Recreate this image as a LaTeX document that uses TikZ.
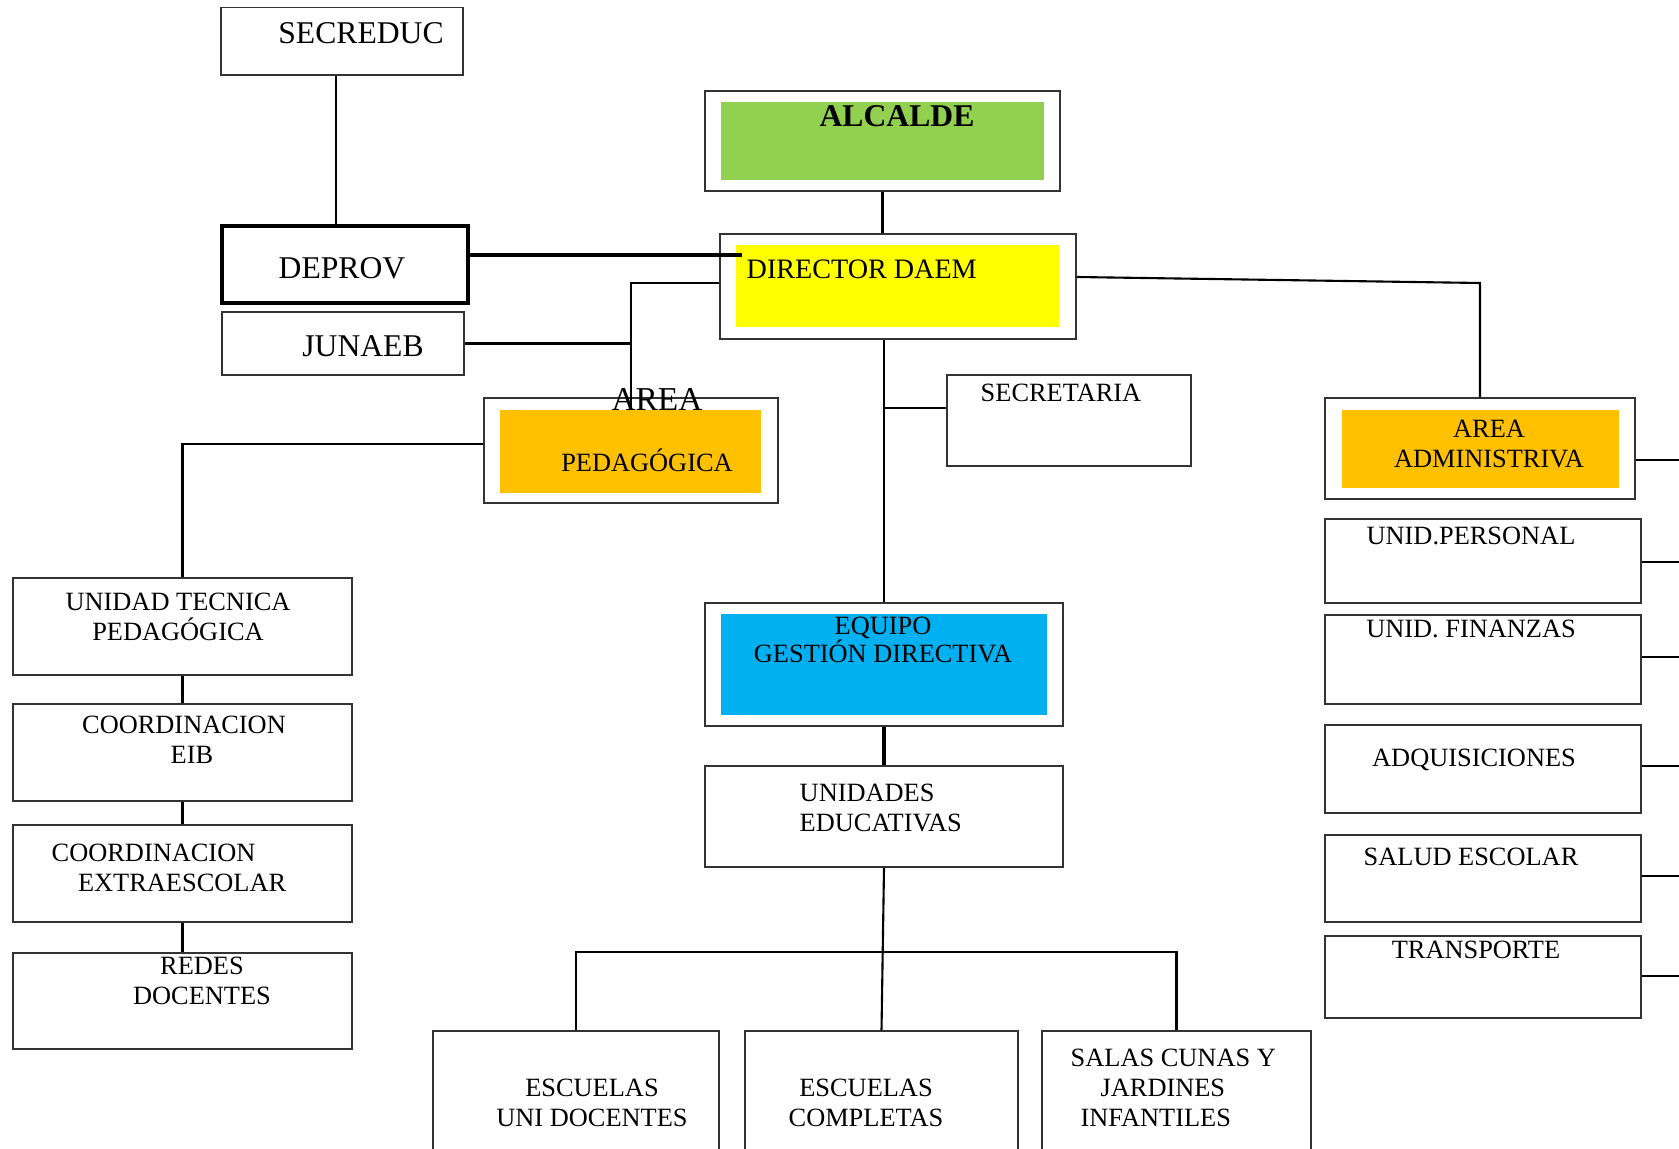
\documentclass[tikz,border=0pt]{standalone}
\usepackage{fontspec}
\setmainfont{Liberation Serif}
\usetikzlibrary{fit}

\definecolor{verde}{HTML}{92D050}
\definecolor{amarillo}{HTML}{FFFF00}
\definecolor{naranjo}{HTML}{FFC000}
\definecolor{celeste}{HTML}{00B0F0}

\begin{document}
\begin{tikzpicture}[x=0.01cm,y=-0.01cm,
  caja/.style={draw=black!80,line width=0.45pt,inner sep=0pt,fit={#1}},
  fondo/.style 2 args={fill=#1,inner sep=0pt,fit={#2}},
  linea/.style={draw=black,line width=0.6pt},
  gruesa/.style={draw=black,line width=1pt},
  grande/.style={font=\fontsize{9}{10.5}\selectfont,inner sep=0pt},
  chica/.style={font=\fontsize{7.5}{8.6}\selectfont,inner sep=0pt,align=center}]
\useasboundingbox (0,0) rectangle (1679,1149);
\clip (0,0) rectangle (1679,1149);

% cajas de arriba
\node[caja={(221,7.5) (463,75)}] (secreduc) {};
\node[caja={(222,226) (468,303)},line width=1pt,draw=black] (deprov) {};
\node[caja={(222,312) (464,375)}] (junaeb) {};
\node[caja={(705,91) (1060,191)}] (alcalde) {};
\node[fondo={verde}{(721,102) (1044,180)}] (alcIn) {};
\node[caja={(720,234) (1076,339)}] (director) {};
\node[fondo={amarillo}{(736,245) (1059,327)}] (dirIn) {};
\node[caja={(947,375) (1191,466)}] (secretaria) {};

% areas
\node[caja={(484,398) (778,503)}] (pedO) {};
\node[fondo={naranjo}{(500,410) (761,493)}] (pedIn) {};
\node[caja={(1325,398) (1635,499)}] (admO) {};
\node[fondo={naranjo}{(1342,410) (1619,488)}] (admIn) {};

% columna pedagogica
\node[caja={(13,578) (352,675)}] (utp) {};
\node[caja={(13,704) (352,801)}] (eib) {};
\node[caja={(13,825) (352,922)}] (extra) {};
\node[caja={(13,953) (352,1049)}] (redes) {};

% columna administrativa
\node[caja={(1325,519) (1641,603)}] (personal) {};
\node[caja={(1325,615) (1641,704)}] (finanzas) {};
\node[caja={(1325,725) (1641,813)}] (adquis) {};
\node[caja={(1325,835) (1641,922)}] (salud) {};
\node[caja={(1325,936) (1641,1018)}] (transp) {};

% centro
\node[caja={(705,603) (1063,726)}] (equipo) {};
\node[fondo={celeste}{(721,614) (1047,715)}] (eqIn) {};
\node[caja={(705,766) (1063,867)}] (unidades) {};
\node[caja={(433,1031) (719,1170)}] (escUni) {};
\node[caja={(745,1031) (1018,1170)}] (escComp) {};
\node[caja={(1042,1031) (1311,1170)}] (salas) {};

% conectores
\draw[linea] (secreduc.south) ++(-6,0) coordinate (sd) -- (sd |- deprov.north);
\draw[gruesa] (deprov.east |- 0,255) -- ([xshift=2pt]dirIn.west |- 0,255);
\coordinate (jn) at (631,283);
\draw[linea] (junaeb.east) -- (junaeb.east -| jn);
\draw[linea] (director.west |- jn) -- (jn) -- (jn |- pedIn.north);
\draw[linea] (alcalde.south) -- (alcalde.south |- director.north);
\draw[linea] (equipo.north |- director.south) -- (equipo.north);
\draw[linea] (secretaria.west |- 0,408) -- (equipo.north |- 0,408);
\draw[linea] (director.east |- 0,277) -- (admO.north |- 0,283) -- (admO.north);
\draw[gruesa] (equipo.south) -- (unidades.north);
\coordinate (barra) at (0,952);
\draw[linea] (unidades.south) -- (escComp.north);
\draw[linea] (escUni.north) -- (escUni.north |- barra) -- (salas.north |- barra) -- (salas.north);
\draw[linea] (pedO.west |- 0,444) -| (utp.north);
\draw[linea] (utp.south) -- (eib.north);
\draw[gruesa] (eib.south) -- (extra.north);
\draw[linea] (extra.south) -- (redes.north);
\foreach \c/\y in {admO/460,personal/562,finanzas/657,adquis/766,salud/876,transp/976}
  \draw[linea] (\c.east |- 0,\y) -- (1679,\y);

% textos
\node[grande] (tSecreduc) at (361,33) {SECREDUC};
\node[grande] (tDeprov) at (342,268) {DEPROV};
\node[grande] (tJunaeb) at (363,346) {JUNAEB};
\node[grande,font=\fontsize{9}{10.5}\selectfont\bfseries] (tAlcalde) at (897,116) {ALCALDE};
\node[grande,font=\fontsize{8}{9.5}\selectfont,anchor=west] (tDirector) at (746,269) {DIRECTOR DAEM};
\node[grande,font=\fontsize{9.5}{11}\selectfont] (tArea) at (657,399) {AREA};
\node[chica] (tPed) at (647,460) {PEDAGÓGICA};
\node[chica] (tSecretaria) at (1061,393) {SECRETARIA};
\node[chica] (tAdm) at (1489,444) {AREA\\ADMINISTRIVA};
\node[chica] (tPersonal) at (1471,536) {UNID.PERSONAL};
\node[chica] (tFinanzas) at (1471,629) {UNID. FINANZAS};
\node[chica] (tAdquis) at (1474,760) {ADQUISICIONES};
\node[chica] (tSalud) at (1471,857) {SALUD ESCOLAR};
\node[chica] (tTransp) at (1476,950) {TRANSPORTE};
\node[chica] (tUtp) at (178,617) {UNIDAD TECNICA\\PEDAGÓGICA};
\node[chica] (tEib) at (184,740) {COORDINACION\\\hspace*{0.6em}EIB};
\node[chica,align=left,anchor=west] (tExtra) at (51,868) {COORDINACION\\\hspace*{1em}EXTRAESCOLAR};
\node[chica] (tRedes) at (202,981) {REDES\\DOCENTES};
\node[chica,font=\fontsize{7.5}{8.2}\selectfont] (tEquipo) at (883,640) {EQUIPO\\GESTIÓN DIRECTIVA};
\node[chica,align=left,anchor=west] (tUnidades) at (799,808) {UNIDADES\\EDUCATIVAS};
\node[chica] (tEscUni) at (592,1103) {ESCUELAS\\UNI DOCENTES};
\node[chica] (tEscComp) at (866,1103) {ESCUELAS\\COMPLETAS};
\node[chica,align=left,anchor=west] (tSalas) at (1070,1088) {SALAS CUNAS Y\\\hspace*{8.5pt}JARDINES\\\hspace*{2.8pt}INFANTILES};
\end{tikzpicture}
\end{document}
